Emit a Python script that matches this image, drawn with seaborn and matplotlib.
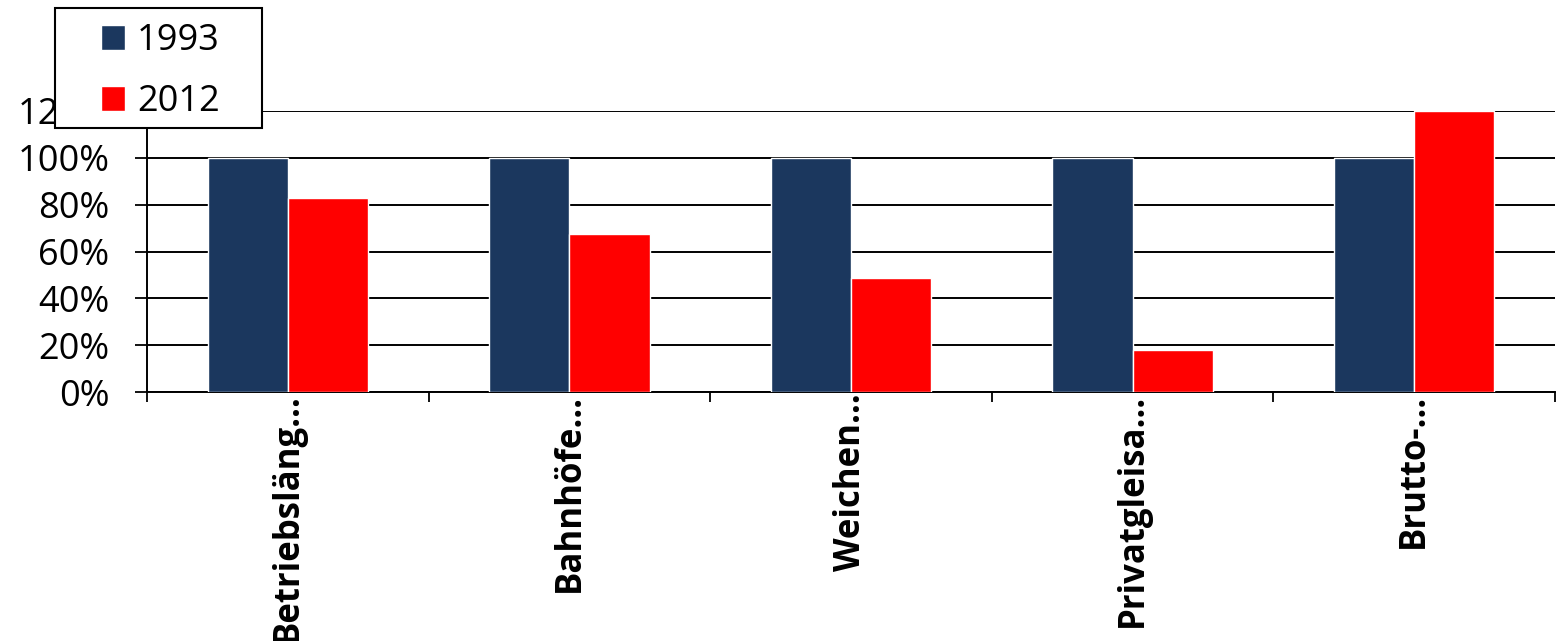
import numpy as np
import pandas as pd
import matplotlib
matplotlib.use("Agg")
import matplotlib.pyplot as plt
from matplotlib.patches import Rectangle
from matplotlib.ticker import PercentFormatter
import seaborn as sns

# Kennzahlen des Schienennetzes, 1993 = 100 %
categories = ["Betriebsläng…", "Bahnhöfe…", "Weichen…", "Privatgleisa…", "Brutto-…"]
years = ["1993", "2012"]
values_1993 = [1.00, 1.00, 1.00, 1.00, 1.00]
values_2012 = [0.83, 0.675, 0.487, 0.18, 1.20]
y_ticks = [0.0, 0.2, 0.4, 0.6, 0.8, 1.0, 1.2]

colors = ["#1B375E", "#FF0000"]

df = pd.DataFrame({
    "Kategorie": categories * 2,
    "Jahr": [years[0]] * len(categories) + [years[1]] * len(categories),
    "Wert": values_1993 + values_2012,
})

sns.set_theme(style="white")
plt.rcParams["font.family"] = ["Open Sans", "DejaVu Sans"]
plt.rcParams["text.color"] = "black"
plt.rcParams["xtick.color"] = "black"
plt.rcParams["ytick.color"] = "black"

W, H = 1560, 641
fig = plt.figure(figsize=(W / 100, H / 100), dpi=100)
ax = fig.add_axes([147 / W, 1 - 392 / H, (1555 - 147) / W, (392 - 111) / H])

sns.barplot(data=df, x="Kategorie", y="Wert", hue="Jahr", palette=colors,
            width=0.57, saturation=1, ax=ax, errorbar=None, zorder=3)

handles, labels = ax.get_legend_handles_labels()
if ax.get_legend() is not None:
    ax.get_legend().remove()

ax.set_ylim(0, 1.2)
ax.set_xlim(-0.5, len(categories) - 0.5)
ax.set_yticks(y_ticks)
ax.yaxis.set_major_formatter(PercentFormatter(xmax=1, decimals=0))
ax.yaxis.grid(True, color="black", linewidth=1.4, zorder=0)
ax.set_axisbelow(True)

# Trennstriche zwischen den Kategorien, Beschriftung mittig
ax.set_xticks(np.arange(-0.5, len(categories), 1.0))
ax.set_xticklabels([])
ax.set_xticks(np.arange(len(categories)), minor=True)
ax.set_xticklabels(categories, minor=True, rotation=90, ha="center", va="top",
                   fontsize=25, fontweight="bold")
ax.tick_params(axis="x", which="major", direction="out", length=7, width=1.3,
               bottom=True)
ax.tick_params(axis="x", which="minor", length=0, pad=1)
ax.tick_params(axis="y", direction="out", length=9, width=1.3,
               left=True, labelsize=26, pad=18)

ax.set_xlabel("")
ax.set_ylabel("")
for side in ["top", "right"]:
    ax.spines[side].set_visible(False)
for side in ["left", "bottom"]:
    ax.spines[side].set_color("black")
    ax.spines[side].set_linewidth(1.4)

# Legendenkasten oben links, ueber der Achse
box = Rectangle((55 / W, 1 - 128 / H), (262 - 55) / W, (128 - 8) / H,
                transform=fig.transFigure, facecolor="white", edgecolor="black",
                linewidth=1.5, zorder=4)
fig.add_artist(box)
leg = fig.legend(handles, labels, loc="upper left",
                 bbox_to_anchor=(101 / W, 1 - 23 / H), borderaxespad=0,
                 borderpad=0, fontsize=26, frameon=False,
                 handlelength=0.67, handleheight=0.67,
                 handletextpad=0.33, labelspacing=0.69)
leg.set_zorder(5)

fig.savefig("out.png", dpi=100, facecolor="white")
